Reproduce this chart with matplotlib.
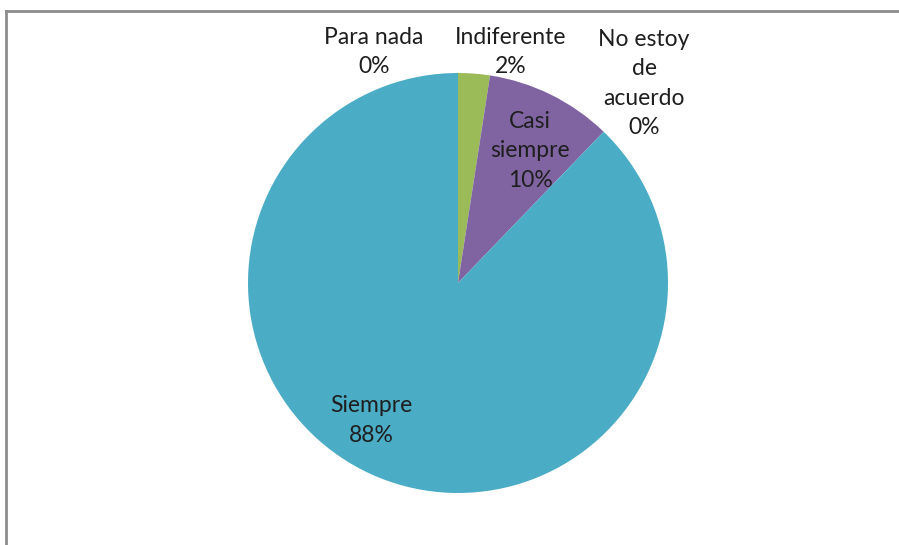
import matplotlib

matplotlib.use("Agg")
import matplotlib.pyplot as plt  # noqa: E402
from matplotlib.lines import Line2D  # noqa: E402

# responses (counts), Likert order
categories = ["Para nada", "No estoy de acuerdo", "Indiferente", "Casi siempre", "Siempre"]
counts = [0, 0, 1, 4, 36]
colors = ["#4F81BD", "#C0504D", "#9BBB59", "#8064A2", "#4BACC6"]

# label text and where it sits (data coords, pie radius = 1)
label_text = ["Para nada", "No estoy\nde\nacuerdo", "Indiferente", "Casi\nsiempre", "Siempre"]
label_pos = [(-0.40, 1.10), (0.886, 0.95), (0.25, 1.10), (0.343, 0.63), (-0.415, -0.655)]

plt.rcParams["font.family"] = ["Lato", "DejaVu Sans"]

fig = plt.figure(figsize=(8.99, 5.45), dpi=100)
ax = fig.add_axes([(458 - 210) / 899, (545 - 283 - 210) / 545, 420 / 899, 420 / 545])
ax.pie(counts, colors=colors, startangle=90, counterclock=False, radius=1,
       wedgeprops=dict(linewidth=0))
ax.set_xlim(-1, 1); ax.set_ylim(-1, 1)
ax.set_aspect("equal")
ax.axis("off")

total = sum(counts)
for txt, n, (x, y) in zip(label_text, counts, label_pos):
    ax.text(x, y, f"{txt}\n{round(100 * n / total)}%", ha="center", va="center",
            fontsize=16.5, color="#1e1e1e", linespacing=1.5)

# chart-area frame (left and top only visible in the crop)
fig.add_artist(Line2D([5.5 / 899, 5.5 / 899], [0, 1 - 11 / 545], transform=fig.transFigure,
                      color="#8c8c8c", lw=2))
fig.add_artist(Line2D([5.5 / 899, 1], [1 - 11 / 545, 1 - 11 / 545], transform=fig.transFigure,
                      color="#8c8c8c", lw=2))

fig.savefig("out.png", dpi=100)
